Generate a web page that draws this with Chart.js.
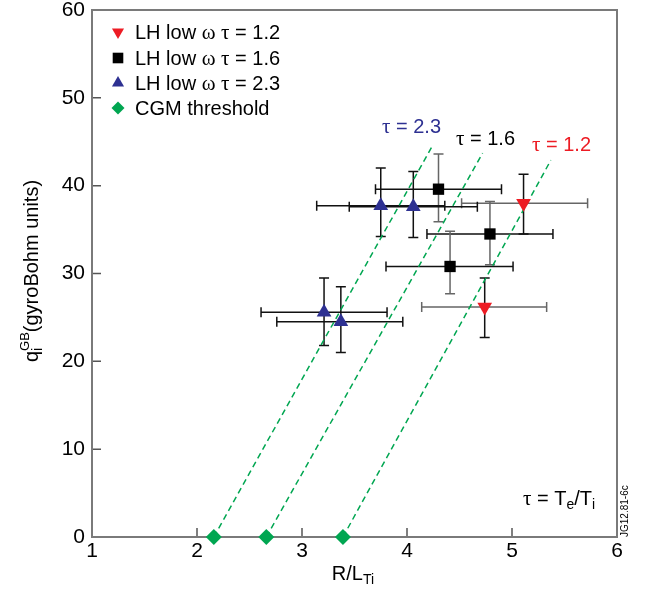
<!DOCTYPE html>
<html>
<head>
<meta charset="utf-8">
<script src="https://cdn.jsdelivr.net/npm/chart.js@4/dist/chart.umd.min.js"></script>
<style>
  html, body { margin: 0; padding: 0; background: #fff; }
</style>
</head>
<body>
<canvas id="chart" width="648" height="595"></canvas>
<script>
// LH low omega, tau = 1.2 (red, down triangles)
const tau12X = [5.11, 4.74];
const tau12Y = [38.0, 26.2];
const tau12XLo = [4.52, 4.14];
const tau12XHi = [5.72, 5.33];
const tau12YLo = [34.5, 22.7];
const tau12YHi = [41.3, 29.5];

// tau = 1.6 (black squares)
const tau16X = [4.30, 4.79, 4.41];
const tau16Y = [39.6, 34.5, 30.8];
const tau16XLo = [3.70, 4.19, 3.80];
const tau16XHi = [4.90, 5.39, 5.01];
const tau16YLo = [35.9, 31.0, 27.7];
const tau16YHi = [43.6, 38.2, 34.8];

// tau = 2.3 (blue triangles)
const tau23X = [3.75, 4.06, 3.21, 3.37];
const tau23Y = [37.7, 37.6, 25.6, 24.5];
const tau23XLo = [3.14, 3.45, 2.61, 2.76];
const tau23XHi = [4.36, 4.67, 3.81, 3.96];
const tau23YLo = [34.2, 34.1, 21.8, 21.0];
const tau23YHi = [42.0, 41.6, 29.5, 28.5];

// CGM threshold points and the dashed threshold lines (order: 2.3, 1.6, 1.2)
const cgmX = [2.16, 2.66, 3.39];
const cgmY = [0, 0, 0];
const lineTopX = [4.25, 4.72, 5.37];
const lineTopY = [44.7, 43.7, 42.9];

const xTicks = [1, 2, 3, 4, 5, 6];
const yTicks = [0, 10, 20, 30, 40, 50, 60];

const SANS = "'Liberation Sans', Arial, Helvetica, sans-serif";
const SERIF = "'Liberation Serif', 'Times New Roman', serif";
const RED = "#ed1c24";
const BLUE = "#2e3192";
const GREEN = "#00a651";

const pts = (xs, ys) => xs.map((x, i) => ({ x: x, y: ys[i] }));

// draws a run of text pieces: [text, size, dy, family, noAdvance, color]
function drawRuns(ctx, runs, x, y, align, color) {
  let w = 0;
  runs.forEach((r) => {
    ctx.font = r[1] + "px " + (r[3] || SANS);
    r.w = ctx.measureText(r[0]).width;
    if (!r[4]) w += r.w;
  });
  let cx = align === "center" ? x - w / 2 : x;
  ctx.textAlign = "left";
  ctx.textBaseline = "alphabetic";
  ctx.fillStyle = color || "#000";
  runs.forEach((r) => {
    ctx.font = r[1] + "px " + (r[3] || SANS);
    ctx.fillText(r[0], cx, y + (r[2] || 0));
    if (!r[4]) cx += r.w;
  });
}

const frame = {
  id: "frame",
  beforeDatasetsDraw(chart) {
    const ctx = chart.ctx, a = chart.chartArea;
    const xs = chart.scales.x, ys = chart.scales.y;
    ctx.save();
    ctx.strokeStyle = "#555";
    ctx.lineWidth = 1.5;
    ctx.beginPath();
    xTicks.forEach((t) => {
      const p = xs.getPixelForValue(t);
      ctx.moveTo(p, a.bottom); ctx.lineTo(p, a.bottom - 9);
    });
    yTicks.forEach((t) => {
      const p = ys.getPixelForValue(t);
      ctx.moveTo(a.left, p); ctx.lineTo(a.left + 9, p);
    });
    ctx.stroke();
    ctx.strokeStyle = "#7a7a7a";
    ctx.lineWidth = 2;
    ctx.strokeRect(a.left, a.top, a.right - a.left, a.bottom - a.top);
    ctx.restore();
  }
};

const errorBars = {
  id: "errorBars",
  beforeDatasetsDraw(chart) {
    const ctx = chart.ctx, xs = chart.scales.x, ys = chart.scales.y;
    ctx.save();
    ctx.lineWidth = 1.5;
    chart.data.datasets.forEach((ds) => {
      if (!ds.err) return;
      ds.data.forEach((p, i) => {
        const px = xs.getPixelForValue(p.x), py = ys.getPixelForValue(p.y);
        const x0 = xs.getPixelForValue(ds.err.xLo[i]), x1 = xs.getPixelForValue(ds.err.xHi[i]);
        const y0 = ys.getPixelForValue(ds.err.yLo[i]), y1 = ys.getPixelForValue(ds.err.yHi[i]);
        ctx.strokeStyle = ds.err.xColor;
        ctx.beginPath();
        ctx.moveTo(x0, py); ctx.lineTo(x1, py);
        ctx.moveTo(x0, py - 5); ctx.lineTo(x0, py + 5);
        ctx.moveTo(x1, py - 5); ctx.lineTo(x1, py + 5);
        ctx.stroke();
        ctx.strokeStyle = ds.err.yColor;
        ctx.beginPath();
        ctx.moveTo(px, y0); ctx.lineTo(px, y1);
        ctx.moveTo(px - 5, y0); ctx.lineTo(px + 5, y0);
        ctx.moveTo(px - 5, y1); ctx.lineTo(px + 5, y1);
        ctx.stroke();
      });
    });
    ctx.restore();
  }
};

const annotations = {
  id: "annotations",
  afterDraw(chart) {
    const ctx = chart.ctx;
    ctx.save();
    // legend
    const rows = [
      { style: "triangle", rot: 180, r: 7, c: RED, t: "1.2" },
      { style: "rect", rot: 0, r: 7.5, c: "#000", t: "1.6" },
      { style: "triangle", rot: 0, r: 7, c: BLUE, t: "2.3" },
      { style: "rectRot", rot: 0, r: 6.5, c: GREEN, t: null }
    ];
    const rowY = [32, 58, 83, 108];
    rows.forEach((row, i) => {
      ctx.fillStyle = row.c;
      Chart.helpers.drawPoint(ctx, { pointStyle: row.style, radius: row.r, rotation: row.rot, borderWidth: 0 }, 118, rowY[i]);
      if (row.t) {
        drawRuns(ctx, [["LH low ", 20], ["\u03c9", 21, 0, SERIF], [" ", 20], ["\u03c4", 21, 0, SERIF], [" = " + row.t, 20]], 135, rowY[i] + 7, "left");
      } else {
        drawRuns(ctx, [["CGM threshold", 20]], 135, rowY[i] + 7, "left");
      }
    });
    // tau labels on the threshold lines
    drawRuns(ctx, [["\u03c4", 21, 0, SERIF], [" = 2.3", 20]], 382, 133, "left", BLUE);
    drawRuns(ctx, [["\u03c4", 21, 0, SERIF], [" = 1.6", 20]], 456, 145, "left", "#000");
    drawRuns(ctx, [["\u03c4", 21, 0, SERIF], [" = 1.2", 20]], 532, 151, "left", RED);
    drawRuns(ctx, [["\u03c4", 21, 0, SERIF], [" = T", 20], ["e", 14, 4], ["/T", 20], ["i", 14, 4]], 523, 505, "left", "#000");
    // axis titles
    drawRuns(ctx, [["R/L", 20], ["Ti", 14, 4]], 353, 580, "center", "#000");
    ctx.translate(38, 271);
    ctx.rotate(-Math.PI / 2);
    drawRuns(ctx, [["q", 20], ["i", 14, 4, SANS, true], ["GB", 13, -9], ["(gyroBohm units)", 20]], 0, 0, "center", "#000");
    ctx.restore();
    // figure reference tag
    ctx.save();
    ctx.translate(628, 537);
    ctx.rotate(-Math.PI / 2);
    drawRuns(ctx, [["JG12.81-6c", 10]], 0, 0, "left", "#000");
    ctx.restore();
  }
};

const dashed = (i) => ({
  label: "line" + i,
  data: [{ x: cgmX[i], y: cgmY[i] }, { x: lineTopX[i], y: lineTopY[i] }],
  showLine: true,
  borderColor: GREEN,
  borderWidth: 1.5,
  borderDash: [6, 4],
  pointRadius: 0,
  order: 10
});

new Chart(document.getElementById("chart"), {
  type: "scatter",
  data: {
    datasets: [
      dashed(0), dashed(1), dashed(2),
      {
        label: "LH low \u03c9 \u03c4 = 1.2",
        data: pts(tau12X, tau12Y),
        pointStyle: "triangle", pointRotation: 180, pointRadius: 8.5,
        backgroundColor: RED, borderWidth: 0, order: 1,
        err: { xLo: tau12XLo, xHi: tau12XHi, yLo: tau12YLo, yHi: tau12YHi, xColor: "#666", yColor: "#111" }
      },
      {
        label: "LH low \u03c9 \u03c4 = 1.6",
        data: pts(tau16X, tau16Y),
        pointStyle: "rect", pointRadius: 8,
        backgroundColor: "#000", borderWidth: 0, order: 1,
        err: { xLo: tau16XLo, xHi: tau16XHi, yLo: tau16YLo, yHi: tau16YHi, xColor: "#111", yColor: "#666" }
      },
      {
        label: "LH low \u03c9 \u03c4 = 2.3",
        data: pts(tau23X, tau23Y),
        pointStyle: "triangle", pointRadius: 8.5,
        backgroundColor: BLUE, borderWidth: 0, order: 1,
        err: { xLo: tau23XLo, xHi: tau23XHi, yLo: tau23YLo, yHi: tau23YHi, xColor: "#111", yColor: "#111" }
      },
      {
        label: "CGM threshold",
        data: pts(cgmX, cgmY),
        pointStyle: "rectRot", pointRadius: 8,
        backgroundColor: GREEN, borderWidth: 0, order: 0,
        clip: false
      }
    ]
  },
  options: {
    responsive: false,
    animation: false,
    events: [],
    layout: { padding: { left: 0, top: 10, right: 31, bottom: 0 } },
    plugins: { legend: { display: false }, tooltip: { enabled: false } },
    scales: {
      x: {
        type: "linear", min: 1, max: 6,
        grid: { display: false, drawTicks: false },
        border: { display: false },
        ticks: { stepSize: 1, padding: 2, color: "#000", font: { family: SANS, size: 21 } },
        afterFit(s) { s.height = 58; s.paddingLeft = 0; s.paddingRight = 0; }
      },
      y: {
        min: 0, max: 60,
        grid: { display: false, drawTicks: false },
        border: { display: false },
        ticks: { stepSize: 10, padding: 7, color: "#000", font: { family: SANS, size: 21 } },
        afterFit(s) { s.width = 92; s.paddingTop = 0; s.paddingBottom = 0; }
      }
    }
  },
  plugins: [frame, errorBars, annotations]
});
</script>
</body>
</html>
